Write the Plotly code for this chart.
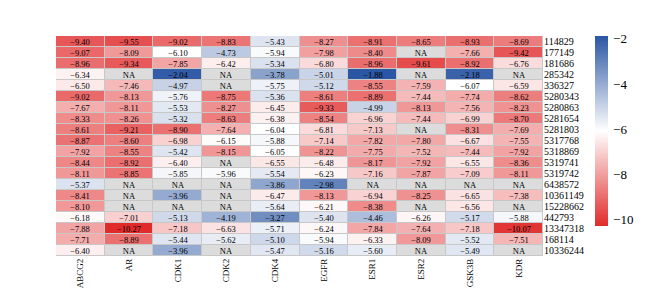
import plotly.graph_objects as go

NA = None
genes = ["ABCG2", "AR", "CDK1", "CDK2", "CDK4", "EGFR", "ESR1", "ESR2", "GSK3B", "KDR"]
compounds = ["114829", "177149", "181686", "285342", "336327", "5280343", "5280863",
             "5281654", "5281803", "5317768", "5318869", "5319741", "5319742",
             "6438572", "10361149", "15228662", "442793", "13347318", "168114", "10336244"]

ABCG2 = [-9.40, -9.07, -8.96, -6.34, -6.50, -9.02, -7.67, -8.33, -8.61, -8.87,
         -7.92, -8.44, -8.11, -5.37, -8.41, -8.10, -6.18, -7.88, -7.71, -6.40]
AR = [-9.55, -8.09, -9.34, NA, -7.46, -8.13, -8.11, -8.26, -9.21, -8.60,
      -8.55, -8.92, -8.85, NA, NA, NA, -7.01, -10.27, -8.89, NA]
CDK1 = [-9.02, -6.10, -7.85, -2.04, -4.97, -5.76, -5.53, -5.32, -8.90, -6.98,
        -5.42, -6.40, -5.85, NA, -3.96, NA, -5.13, -7.18, -5.44, -3.96]
CDK2 = [-8.83, -4.73, -6.42, NA, NA, -8.75, -8.27, -8.63, -7.64, -6.15,
        -8.15, NA, -5.96, NA, NA, NA, -4.19, -6.63, -5.62, NA]
CDK4 = [-5.43, -5.94, -5.34, -3.78, -5.75, -5.36, -6.45, -6.38, -6.04, -5.88,
        -6.05, -6.55, -5.54, -3.86, -6.47, -5.64, -3.27, -5.71, -5.10, -5.47]
EGFR = [-8.27, -7.98, -6.80, -5.01, -5.12, -8.61, -9.33, -8.54, -6.81, -7.14,
        -8.22, -6.48, -6.23, -2.98, -8.13, -6.21, -5.40, -6.24, -5.94, -5.16]
ESR1 = [-8.91, -8.40, -8.96, -1.88, -8.55, -8.89, -4.99, -6.96, -7.13, -7.82,
        -7.75, -8.17, -7.16, NA, -6.94, -8.38, -4.46, -7.84, -6.33, -5.60]
ESR2 = [-8.65, NA, -9.61, NA, -7.59, -7.44, -8.13, -7.44, NA, -7.80,
        -7.52, -7.92, -7.87, NA, -8.25, NA, -6.26, -7.64, -8.09, NA]
GSK3B = [-8.93, -7.66, -8.92, -2.18, -6.07, -7.74, -7.56, -6.99, -8.31, -6.67,
         -7.44, -6.55, -7.09, NA, -6.65, -6.56, -5.17, -7.18, -5.52, -5.49]
KDR = [-8.69, -9.42, -6.76, NA, -6.59, -8.62, -8.23, -8.70, -7.69, -7.55,
       -7.92, -8.36, -8.11, NA, -7.38, NA, -5.88, -10.07, -7.51, NA]

cols = [ABCG2, AR, CDK1, CDK2, CDK4, EGFR, ESR1, ESR2, GSK3B, KDR]
z = [[c[i] for c in cols] for i in range(len(compounds))]
txt = [["" if v is None else ("\u2212%.2f" % abs(v)) for v in row] for row in z]
na_z = [[1 if v is None else None for v in row] for row in z]
na_txt = [["NA" if v is None else "" for v in row] for row in z]

font_family = "Liberation Serif"

fig = go.Figure()
fig.add_trace(go.Heatmap(
    z=na_z, x=genes, y=compounds, text=na_txt, texttemplate="%{text}",
    textfont=dict(family=font_family, size=8.5, color="black"),
    colorscale=[[0, "#dcdcdc"], [1, "#dcdcdc"]], showscale=False,
    xgap=1, ygap=1, hoverinfo="skip"))
fig.add_trace(go.Heatmap(
    z=z, x=genes, y=compounds, text=txt, texttemplate="%{text}",
    textfont=dict(family=font_family, size=8.5, color="black"),
    colorscale=[[0, "#E12B2B"], [0.5, "#FFFFFF"], [1, "#2A56A3"]],
    zmin=-10.27, zmax=-1.88, xgap=1, ygap=1,
    colorbar=dict(
        thickness=13, lenmode="pixels", len=190, y=1, yanchor="top",
        x=1.107, xanchor="left", xpad=0, ypad=0, outlinewidth=0,
        tickvals=[-2, -4, -6, -8, -10], ticktext=["\u22122", "\u22124", "\u22126", "\u22128", "\u221210"],
        ticks="outside", ticklen=3, tickcolor="white",
        tickfont=dict(family=font_family, size=13, color="black"))))

fig.update_layout(
    width=658, height=292,
    margin=dict(l=48, r=123, t=28, b=34),
    paper_bgcolor="white", plot_bgcolor="#c8c8c8",
    xaxis=dict(tickangle=-90, tickfont=dict(family=font_family, size=9, color="black"),
               tickmode="array", tickvals=genes, ticktext=genes,
               showgrid=False, zeroline=False, ticks="", ticklen=0),
    yaxis=dict(side="right", autorange="reversed",
               tickmode="array", tickvals=compounds, ticktext=compounds,
               tickfont=dict(family=font_family, size=10, color="black"),
               showgrid=False, zeroline=False, ticks="", ticklen=0),
)

fig.write_html("out.html")
